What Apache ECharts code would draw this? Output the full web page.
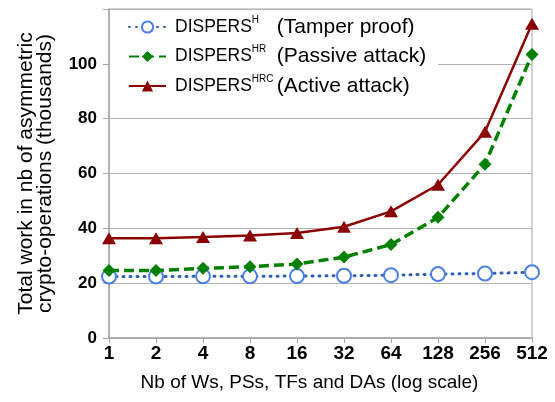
<!DOCTYPE html>
<html><head><meta charset="utf-8">
<script src="https://cdn.jsdelivr.net/npm/echarts@6/dist/echarts.min.js"></script>
<style>html,body{margin:0;padding:0;background:#fff}#c{width:555px;height:402px}</style>
</head><body><div id="c"></div>
<script>
var categories = ['1','2','4','8','16','32','64','128','256','512'];
var seriesNames = ['H','HR','HRC'];
var seriesDesc = ['(Tamper proof)','(Passive attack)','(Active attack)'];
var valuesH = [22.4, 22.4, 22.5, 22.5, 22.6, 22.7, 22.9, 23.3, 23.5, 24.0];
var valuesHR = [24.6, 24.6, 25.4, 26.0, 27.0, 29.5, 34.1, 44.0, 63.4, 103.4];
var valuesHRC = [36.4, 36.4, 36.8, 37.4, 38.3, 40.6, 46.2, 55.9, 75.2, 114.6];
var yTitle = 'Total work in nb of asymmetric\ncrypto-operations (thousands)';
var xTitle = 'Nb of Ws, PSs, TFs and DAs (log scale)';

var FONT = '"Liberation Sans", Arial, sans-serif';
var chart = echarts.init(document.getElementById('c'), null, {renderer:'canvas'});
chart.setOption({
  animation: false,
  backgroundColor: '#fff',
  grid: {left: 109, right: 23, top: 9, bottom: 64, show: true, borderColor: '#a6a6a6', borderWidth: 1},
  legend: {
    orient: 'vertical', left: 110, top: 11,
    padding: [4, 12, 8, 18],
    backgroundColor: '#fff',
    itemWidth: 37, itemHeight: 14, itemGap: 7,
    data: seriesNames,
    formatter: function(name){
      var i = seriesNames.indexOf(name);
      return '{n|DISPERS}{s|' + name + '}{d|' + seriesDesc[i] + '}';
    },
    textStyle: {
      fontFamily: FONT, color: '#000',
      rich: {
        n: {fontFamily: FONT, fontSize: 17.5, lineHeight: 24, color: '#000', padding: [0,0,0,4]},
        s: {fontFamily: FONT, fontSize: 10, lineHeight: 18, width: 25, verticalAlign: 'top', color: '#000'},
        d: {fontFamily: FONT, fontSize: 21, lineHeight: 24, color: '#000'}
      }
    }
  },
  xAxis: {
    type: 'category', data: categories, boundaryGap: false,
    axisLine: {lineStyle: {color: '#a6a6a6', width: 1.5}},
    axisTick: {show: true, length: 5, lineStyle: {color: '#a6a6a6', width: 1}},
    axisLabel: {fontFamily: FONT, fontSize: 19, fontWeight: 'bold', color: '#000', margin: 6},
    splitLine: {show: false},
    name: xTitle, nameLocation: 'middle', nameGap: 35,
    nameTextStyle: {fontFamily: FONT, fontSize: 19, color: '#000', padding: [0, 22, 0, 0]}
  },
  yAxis: {
    type: 'value', min: 0, max: 120, interval: 20,
    axisLine: {show: true, lineStyle: {color: '#a6a6a6', width: 1.5}},
    axisTick: {show: true, length: 6, lineStyle: {color: '#a6a6a6', width: 1}},
    axisLabel: {fontFamily: FONT, fontSize: 17, fontWeight: 'bold', color: '#000', margin: 12,
      formatter: function(v){ return v >= 120 ? '' : String(v); }},
    splitLine: {show: true, lineStyle: {color: '#b3b3b3', width: 1}},
    name: yTitle, nameLocation: 'middle', nameGap: 54, nameRotate: 90,
    nameTextStyle: {fontFamily: FONT, fontSize: 21, lineHeight: 19, color: '#000'}
  },
  series: [
    {name: 'H', type: 'line', data: valuesH, symbol: 'emptyCircle', symbolSize: 14, z: 2,
      itemStyle: {color: '#4a7fe3', borderWidth: 1.5},
      lineStyle: {color: '#2f5fb3', width: 3, type: [1, 6], cap: 'round'}},
    {name: 'HR', type: 'line', data: valuesHR, symbol: 'diamond', symbolSize: 13, z: 3,
      itemStyle: {color: '#008000'},
      lineStyle: {color: '#008000', width: 3.5, type: [10, 5]}},
    {name: 'HRC', type: 'line', data: valuesHRC, symbol: 'triangle', symbolSize: [14, 12], z: 4,
      itemStyle: {color: '#8b0000'},
      lineStyle: {color: '#8b0000', width: 2.5}}
  ]
});
</script></body></html>
